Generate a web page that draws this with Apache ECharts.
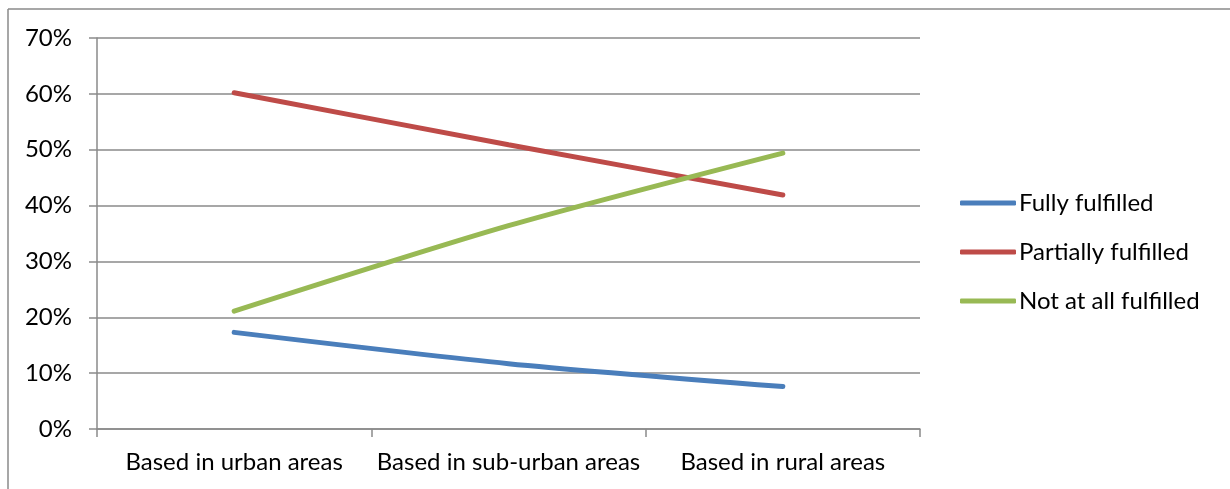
<!DOCTYPE html>
<html>
<head>
<meta charset="utf-8">
<script src="https://cdn.jsdelivr.net/npm/echarts@6/dist/echarts.min.js"></script>
<style>
  html, body { margin: 0; padding: 0; background: #fff; }
  #chart { width: 1230px; height: 489px; }
</style>
</head>
<body>
<div id="chart"></div>
<script>
// Share of expectations fulfilled, by location of respondents
const categories = ['Based in urban areas', 'Based in sub-urban areas', 'Based in rural areas'];
const fullyFulfilled = [17.3, 11.7, 7.6];
const partiallyFulfilled = [60.2, 50.9, 41.9];
const notAtAllFulfilled = [21.1, 36.4, 49.4];
const seriesNames = ['Fully fulfilled', 'Partially fulfilled', 'Not at all fulfilled'];
const seriesColors = ['#4A7EBB', '#BE4B48', '#98B954'];

const FONT = 'Lato, "Open Sans", sans-serif';
const FONT_SIZE = 24;
const GRID_GRAY = '#8a8a8a';

const chart = echarts.init(document.getElementById('chart'), null, { renderer: 'canvas' });

function lineSeries(name, data, color) {
  return {
    name: name,
    type: 'line',
    data: data,
    smooth: 0.25,
    showSymbol: false,
    symbol: 'none',
    lineStyle: { color: color, width: 5, cap: 'round' },
    itemStyle: { color: color },
    emphasis: { disabled: true }
  };
}

chart.setOption({
  animation: false,
  backgroundColor: '#ffffff',
  grid: { left: 97, right: 310, top: 38, bottom: 60, containLabel: false },
  legend: {
    orient: 'vertical',
    left: 960,
    top: 191,
    padding: 0,
    itemWidth: 56,
    itemHeight: 5,
    itemGap: 25,
    icon: 'roundRect',
    data: seriesNames,
    textStyle: { fontFamily: FONT, fontSize: FONT_SIZE, lineHeight: 24, color: '#000', padding: [0, 0, 0, -2] }
  },
  xAxis: {
    type: 'category',
    data: categories,
    boundaryGap: true,
    axisLine: { lineStyle: { color: GRID_GRAY, width: 1.5 } },
    axisTick: { show: true, length: 8, interval: 0, lineStyle: { color: GRID_GRAY, width: 1.5 } },
    axisLabel: { fontFamily: FONT, fontSize: FONT_SIZE, color: '#000', margin: 21, interval: 0 },
    splitLine: { show: false }
  },
  yAxis: {
    type: 'value',
    min: 0,
    max: 70,
    interval: 10,
    axisLine: { show: true, lineStyle: { color: GRID_GRAY, width: 1.5 } },
    axisTick: { show: true, length: 8, lineStyle: { color: GRID_GRAY, width: 1.5 } },
    axisLabel: { fontFamily: FONT, fontSize: FONT_SIZE, color: '#000', margin: 25, formatter: '{value}%' },
    splitLine: { show: true, lineStyle: { color: GRID_GRAY, width: 1.5 } }
  },
  graphic: [
    { type: 'line', shape: { x1: 8, y1: 9, x2: 1230, y2: 9 }, style: { stroke: '#8a8a8a', lineWidth: 1.5 }, silent: true },
    { type: 'line', shape: { x1: 8, y1: 9, x2: 8, y2: 489 }, style: { stroke: '#8a8a8a', lineWidth: 1.5 }, silent: true }
  ],
  series: [
    lineSeries(seriesNames[0], fullyFulfilled, seriesColors[0]),
    lineSeries(seriesNames[1], partiallyFulfilled, seriesColors[1]),
    lineSeries(seriesNames[2], notAtAllFulfilled, seriesColors[2])
  ]
});
</script>
</body>
</html>
